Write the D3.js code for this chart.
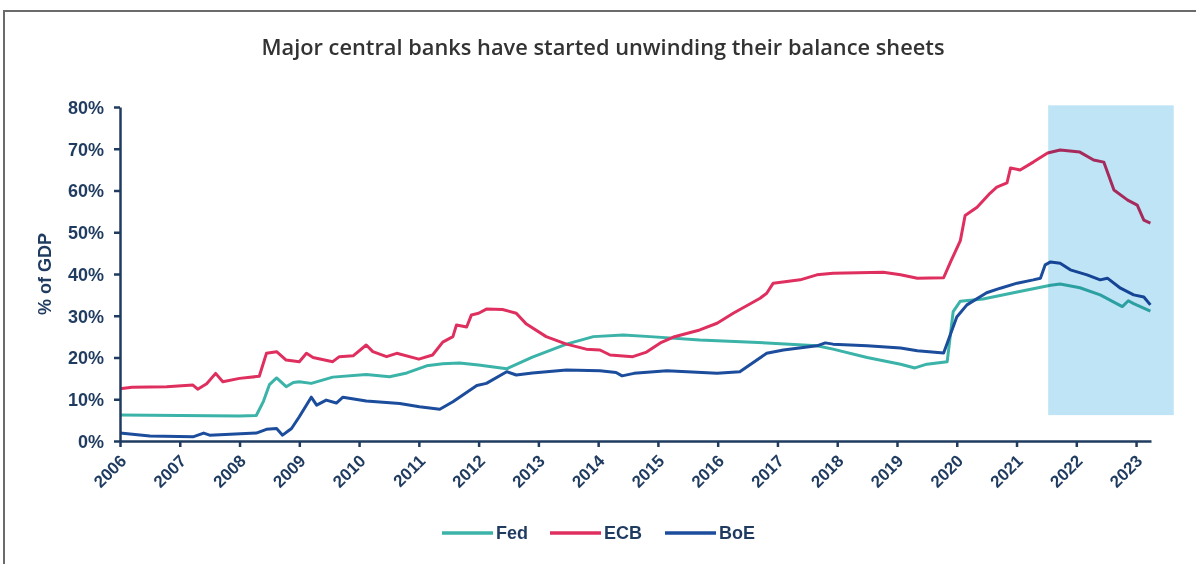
<!DOCTYPE html>
<html>
<head>
<meta charset="utf-8">
<script src="https://cdn.jsdelivr.net/npm/d3@7"></script>
<style>
  html, body { margin: 0; padding: 0; background: #fff; }
  svg { display: block; }
  text { font-family: "Liberation Sans", Arial, sans-serif; }
</style>
</head>
<body>
<div id="chart"></div>
<script>
const width = 1196;
const height = 564;

// [year, % of GDP]
const fedData = [
  [2006.0, 6.2], [2007.0, 6.1], [2008.0, 6.0], [2008.28, 6.1], [2008.4, 9.5], [2008.5, 13.5],
  [2008.62, 15.1], [2008.78, 13.0], [2008.9, 14.0], [2009.0, 14.2], [2009.2, 13.8], [2009.56, 15.3],
  [2010.12, 15.9], [2010.51, 15.4], [2010.8, 16.3], [2011.13, 18.0], [2011.4, 18.5], [2011.68, 18.7],
  [2012.0, 18.2], [2012.47, 17.3], [2012.9, 20.1], [2013.47, 23.2], [2013.92, 25.0], [2014.42, 25.4],
  [2014.87, 25.0], [2015.7, 24.2], [2016.82, 23.5], [2017.66, 22.8], [2017.93, 22.0], [2018.5, 20.0],
  [2019.06, 18.4], [2019.3, 17.5], [2019.5, 18.4], [2019.84, 19.0], [2019.94, 31.0], [2020.06, 33.5],
  [2020.44, 34.0], [2021.01, 35.7], [2021.57, 37.3], [2021.73, 37.6], [2022.06, 36.7], [2022.4, 35.0],
  [2022.77, 32.2], [2022.87, 33.6], [2022.96, 32.9], [2023.24, 31.1]
];

const ecbData = [
  [2006.0, 12.5], [2006.2, 12.9], [2006.78, 13.0], [2007.22, 13.4], [2007.3, 12.4], [2007.45, 13.7],
  [2007.6, 16.2], [2007.72, 14.2], [2008.0, 15.0], [2008.33, 15.5], [2008.45, 21.0], [2008.62, 21.4],
  [2008.78, 19.4], [2009.0, 19.0], [2009.12, 21.0], [2009.23, 20.0], [2009.56, 19.0], [2009.67, 20.2],
  [2009.9, 20.4], [2010.12, 23.0], [2010.23, 21.4], [2010.46, 20.2], [2010.63, 21.0], [2011.0, 19.6],
  [2011.23, 20.6], [2011.4, 23.7], [2011.57, 25.0], [2011.63, 27.8], [2011.8, 27.3], [2011.88, 30.2],
  [2012.0, 30.6], [2012.13, 31.6], [2012.4, 31.5], [2012.63, 30.6], [2012.8, 28.0], [2013.13, 25.0],
  [2013.47, 23.2], [2013.8, 22.0], [2014.03, 21.8], [2014.2, 20.6], [2014.58, 20.2], [2014.81, 21.3],
  [2015.04, 23.5], [2015.26, 24.9], [2015.7, 26.6], [2015.99, 28.2], [2016.26, 30.6], [2016.71, 34.2],
  [2016.82, 35.4], [2016.93, 37.8], [2017.38, 38.6], [2017.66, 39.8], [2017.93, 40.2], [2018.77, 40.4],
  [2019.06, 39.8], [2019.34, 39.0], [2019.78, 39.1], [2019.9, 43.0], [2020.06, 48.0], [2020.14, 54.0],
  [2020.34, 56.0], [2020.56, 59.4], [2020.67, 60.8], [2020.84, 61.8], [2020.9, 65.4], [2021.06, 64.9],
  [2021.28, 66.8], [2021.52, 69.0], [2021.73, 69.7], [2022.06, 69.2], [2022.29, 67.3], [2022.46, 66.8],
  [2022.63, 60.1], [2022.86, 57.7], [2023.02, 56.5], [2023.13, 52.9], [2023.24, 52.2]
];

const boeData = [
  [2006.0, 1.9], [2006.5, 1.2], [2007.22, 1.0], [2007.4, 1.9], [2007.5, 1.4], [2008.28, 1.9],
  [2008.45, 2.8], [2008.62, 3.0], [2008.72, 1.4], [2008.87, 3.0], [2009.0, 5.8], [2009.2, 10.5],
  [2009.29, 8.6], [2009.45, 9.8], [2009.62, 9.1], [2009.73, 10.5], [2010.12, 9.6], [2010.68, 9.0],
  [2011.01, 8.2], [2011.35, 7.6], [2011.57, 9.4], [2011.97, 13.3], [2012.13, 13.8], [2012.47, 16.6],
  [2012.63, 15.8], [2012.9, 16.3], [2013.47, 17.0], [2014.03, 16.8], [2014.3, 16.4], [2014.4, 15.6],
  [2014.6, 16.2], [2015.15, 16.8], [2015.99, 16.2], [2016.37, 16.6], [2016.82, 21.0], [2017.1, 21.8],
  [2017.66, 22.8], [2017.8, 23.5], [2017.93, 23.2], [2018.5, 22.8], [2019.06, 22.3], [2019.34, 21.6],
  [2019.78, 21.1], [2019.86, 24.2], [2020.0, 29.7], [2020.17, 32.6], [2020.5, 35.5], [2020.73, 36.6],
  [2021.01, 37.8], [2021.28, 38.6], [2021.4, 39.0], [2021.48, 42.2], [2021.57, 42.9], [2021.73, 42.6],
  [2021.9, 41.0], [2022.18, 39.8], [2022.4, 38.6], [2022.52, 39.0], [2022.74, 36.6], [2022.96, 35.0],
  [2023.13, 34.5], [2023.24, 32.6]
];

const seriesNames = ["Fed", "ECB", "BoE"];
const seriesColors = ["#3bb3a8", "#df2f5f", "#1c4c9c"];
const yearTicks = d3.range(2006, 2024);
const pctTicks = d3.range(0, 81, 10);
// highlighted period (years, %)
const shadeYears = [2021.53, 2023.63];
const shadePct = [6.2, 80.4];

const navy = "#1f3b5f";

const svg = d3.select("#chart").append("svg")
    .attr("width", width).attr("height", height);

// frame
svg.append("path")
    .attr("d", `M4,${height} V11 H${width}`)
    .attr("fill", "none").attr("stroke", "#6b6b6b").attr("stroke-width", 2);

svg.append("text")
    .attr("x", 603).attr("y", 55)
    .attr("text-anchor", "middle")
    .style("font-family", "'Open Sans', sans-serif")
    .style("font-weight", 600)
    .style("font-size", "21.8px")
    .attr("fill", "#333333")
    .text("Major central banks have started unwinding their balance sheets");

const x = d3.scaleLinear().domain([2006, 2023.25]).range([120, 1151]);
const y = d3.scaleLinear().domain([0, 80]).range([441, 107]);

const line = d3.line().x(d => x(d[0])).y(d => y(d[1]));

[fedData, ecbData, boeData].forEach((data, i) => {
  svg.append("path")
      .datum(data)
      .attr("d", line)
      .attr("fill", "none")
      .attr("stroke", seriesColors[i])
      .attr("stroke-width", 3)
      .attr("stroke-linejoin", "round");
});

// shaded box, multiplied over the lines
svg.append("rect")
    .attr("x", x(shadeYears[0])).attr("width", x(shadeYears[1]) - x(shadeYears[0]))
    .attr("y", y(shadePct[1])).attr("height", y(shadePct[0]) - y(shadePct[1]))
    .attr("fill", "#bee4f5")
    .style("mix-blend-mode", "multiply");

// y axis
const yAxis = svg.append("g")
    .attr("transform", "translate(120,0)")
    .call(d3.axisLeft(y).tickValues(pctTicks).tickSize(6).tickSizeOuter(0).tickPadding(10)
      .tickFormat(d => d + "%"));
yAxis.select(".domain").attr("stroke", navy).attr("stroke-width", 2.5);
yAxis.selectAll(".tick line").attr("stroke", navy).attr("stroke-width", 2.5);
yAxis.selectAll(".tick text")
    .attr("fill", navy)
    .style("font-size", "18px").style("font-weight", "bold")
    .attr("dy", "0.35em");

// x axis
const xAxis = svg.append("g")
    .attr("transform", "translate(0,441)")
    .call(d3.axisBottom(x).tickValues(yearTicks).tickSize(6).tickSizeOuter(0)
      .tickFormat(d3.format("d")));
xAxis.select(".domain").attr("stroke", navy).attr("stroke-width", 2.5);
xAxis.selectAll(".tick line").attr("stroke", navy).attr("stroke-width", 2.5);
xAxis.selectAll(".tick text")
    .attr("fill", navy)
    .style("font-size", "17px").style("font-weight", "bold")
    .attr("text-anchor", "end")
    .attr("y", 0).attr("dy", 0)
    .attr("transform", "translate(7,21) rotate(-45)");

svg.append("text")
    .attr("transform", "translate(51,274) rotate(-90)")
    .attr("text-anchor", "middle")
    .attr("fill", navy)
    .style("font-size", "18px").style("font-weight", "bold")
    .text("% of GDP");

// legend
const legend = svg.append("g").attr("transform", "translate(442,533)");
const legendX = [0, 108, 223];
seriesNames.forEach((name, i) => {
  const g = legend.append("g").attr("transform", `translate(${legendX[i]},0)`);
  g.append("line").attr("x1", 0).attr("x2", 51)
      .attr("stroke", seriesColors[i]).attr("stroke-width", 3.5);
  g.append("text").attr("x", 54).attr("dy", "0.36em")
      .attr("fill", navy)
      .style("font-size", "18px").style("font-weight", "bold")
      .text(name);
});
</script>
</body>
</html>
